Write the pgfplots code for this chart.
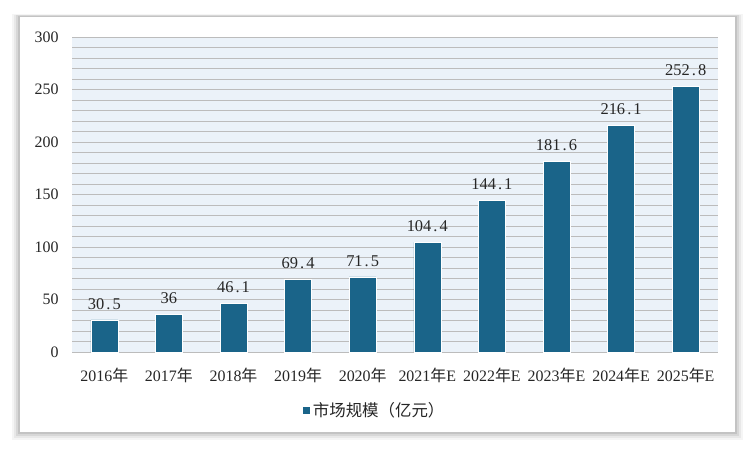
\documentclass[border=0pt]{standalone}
\usepackage{pgfplots}
\pgfplotsset{compat=1.18}
\usepackage{fontspec}
\setmainfont{Liberation Serif}
\newfontfamily\cjk{Noto Sans CJK SC}
\newcommand\pd{\makebox[0.5em]{.}}
\definecolor{barc}{HTML}{1A6489}
\definecolor{plotbg}{HTML}{EBF2F9}
\definecolor{gridc}{HTML}{BCBCBC}
\begin{document}
\begin{tikzpicture}
% canvas
\fill[white] (-72bp,-99bp) rectangle (678bp,352bp);
% shadow
\foreach \i/\o in {8/0.04,6/0.05,4/0.07,2/0.09}{
  \fill[black,opacity=\o] (-52bp-\i bp,-80bp-\i bp) rectangle (663bp+\i bp,335bp+0.4*\i bp);
}
\fill[white] (-52bp,-80bp) rectangle (663bp,335bp);
\begin{axis}[
  at={(0,0)}, anchor=south west,
  scale only axis, width=646bp, height=315bp,
  xmin=-0.5, xmax=9.5, ymin=0, ymax=300,
  axis background/.style={fill=plotbg},
  axis line style={draw=none},
  axis x line*=bottom,
  x axis line style={draw=gridc,line width=0.8pt},
  ytick={0,50,...,300},
  minor ytick={10,20,...,290},
  ymajorgrids, yminorgrids,
  major grid style={draw=gridc,line width=0.8pt},
  minor grid style={draw=gridc,line width=0.8pt},
  tick style={draw=none},
  xtick={0,...,9},
  xticklabels={2016{\cjk 年},2017{\cjk 年},2018{\cjk 年},2019{\cjk 年},2020{\cjk 年},2021{\cjk 年}E,2022{\cjk 年}E,2023{\cjk 年}E,2024{\cjk 年}E,2025{\cjk 年}E},
  ticklabel style={font=\fontsize{16}{18}\selectfont, text=black!85},
  /pgf/number format/assume math mode=true,
  yticklabel style={xshift=-10bp},
  xticklabel style={yshift=-16bp, inner sep=0pt},
  nodes near coords,
  nodes near coords style={font=\fontsize{16.5}{19}\selectfont, text=black!85, yshift=7bp},
  point meta=explicit symbolic,
  legend style={at={(0.468,-0.184)}, anchor=center, draw=none, fill=none,
    font=\fontsize{16.5}{18}\selectfont\cjk, text=black!85},
  legend image code/.code={\fill[#1] (2bp,-4bp) rectangle (10bp,4bp);},
]
\addplot[ybar, bar width=27bp, fill=barc, draw=white, line width=0.6pt]
  coordinates {(0,30.5)[30\pd5] (1,36)[36] (2,46.1)[46\pd1] (3,69.4)[69\pd4] (4,71.5)[71\pd5]
  (5,104.4)[104\pd4] (6,144.1)[144\pd1] (7,181.6)[181\pd6] (8,216.1)[216\pd1] (9,252.8)[252\pd8]};
\addlegendentry{市场规模（亿元）}
\end{axis}
\end{tikzpicture}
\end{document}
